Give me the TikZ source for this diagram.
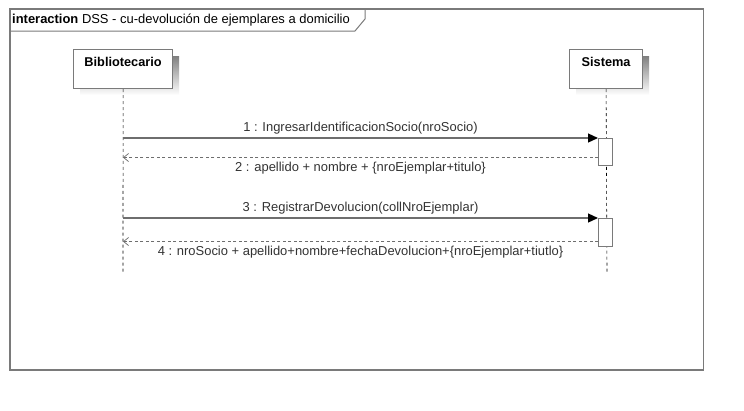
\documentclass[tikz,border=0pt]{standalone}
\usepackage{fontspec}
\setmainfont{Liberation Sans}
\usetikzlibrary{arrows.meta}
\definecolor{edge}{HTML}{7A7A7A}
\definecolor{msg}{HTML}{6E6E6E}
\definecolor{shade}{HTML}{F3F3F3}
\definecolor{txt}{HTML}{333333}
\begin{document}
\begin{tikzpicture}[x=1bp,y=-1bp,
  lbl/.style={font=\fontsize{13}{15}\selectfont, text=txt, inner sep=0pt},
  head/.style={font=\bfseries\fontsize{12.8}{15}\selectfont, inner sep=0pt},
  actor/.style={draw=edge, line width=1.2pt, fill=white, minimum width=99bp, minimum height=39bp,
                inner sep=0pt, anchor=north west},
  lifeline/.style={black, dashed, dash pattern=on 3pt off 3pt, line width=0.6pt},
  call/.style={draw=msg, line width=1.2pt, -{Triangle[length=10bp,width=9bp,color=black]}},
  reply/.style={draw=msg, line width=1.0pt, dash pattern=on 3pt off 2.5pt, -{Straight Barb[length=5bp,width=8bp,line width=0.7pt]}},
  activation/.style={draw=edge, line width=1.2pt, fill=white}]
\useasboundingbox (0,0) rectangle (744,410);
\fill[white] (0,0) rectangle (744,410);

% frame
\draw[edge, line width=1.3pt] (10,9) rectangle (703.5,370);
\draw[edge, line width=1.0pt] (10,31) -- (355,31) -- (365,19) -- (365,9);
\node[lbl, text=black, anchor=west] (title) at (12,20)
  {\textbf{interaction} DSS - cu-devolución de ejemplares a domicilio};

% participants with shadows
\fill[shade] (80,56) rectangle (179,95);
\fill[shade] (576,56) rectangle (649,95);
\node[actor] (bib) at (73,49) {};
\node[actor, minimum width=73bp] (sis) at (569,49) {};
\node[head] at ([yshift=-13bp]bib.north) {Bibliotecario};
\node[head] at ([yshift=-13bp]sis.north) {Sistema};

% lifelines
\coordinate (bibEnd) at (123,272);
\coordinate (sisEnd) at (607,272);
\draw[lifeline] (bib.south) -- (bibEnd);
\draw[lifeline] (sis.south) -- (sisEnd);

% activations
\node[activation, minimum width=14bp, minimum height=27bp, inner sep=0pt, anchor=north west] (act1) at (598,138) {};
\node[activation, minimum width=14bp, minimum height=28bp, inner sep=0pt, anchor=north west] (act2) at (598,218) {};

% messages
\coordinate (b1) at (123,138);
\coordinate (b2) at (123,157.5);
\coordinate (b3) at (123,218);
\coordinate (b4) at (123,241.5);
\draw[call] (b1) -- (act1.north west);
\draw[reply] (act1.west |- b2) -- (b2);
\draw[call] (b3) -- (act2.north west);
\draw[reply] (act2.west |- b4) -- (b4);

\node[lbl] (m1) at (360.5,128.5) {1 : IngresarIdentificacionSocio(nroSocio)};
\node[lbl] (m2) at (360.5,168) {2 : apellido + nombre + \{nroEjemplar+titulo\}};
\node[lbl] (m3) at (360.5,208.5) {3 : RegistrarDevolucion(collNroEjemplar)};
\node[lbl] (m4) at (360.5,252.5) {4 : nroSocio + apellido+nombre+fechaDevolucion+\{nroEjemplar+tiutlo\}};
\end{tikzpicture}
\end{document}
